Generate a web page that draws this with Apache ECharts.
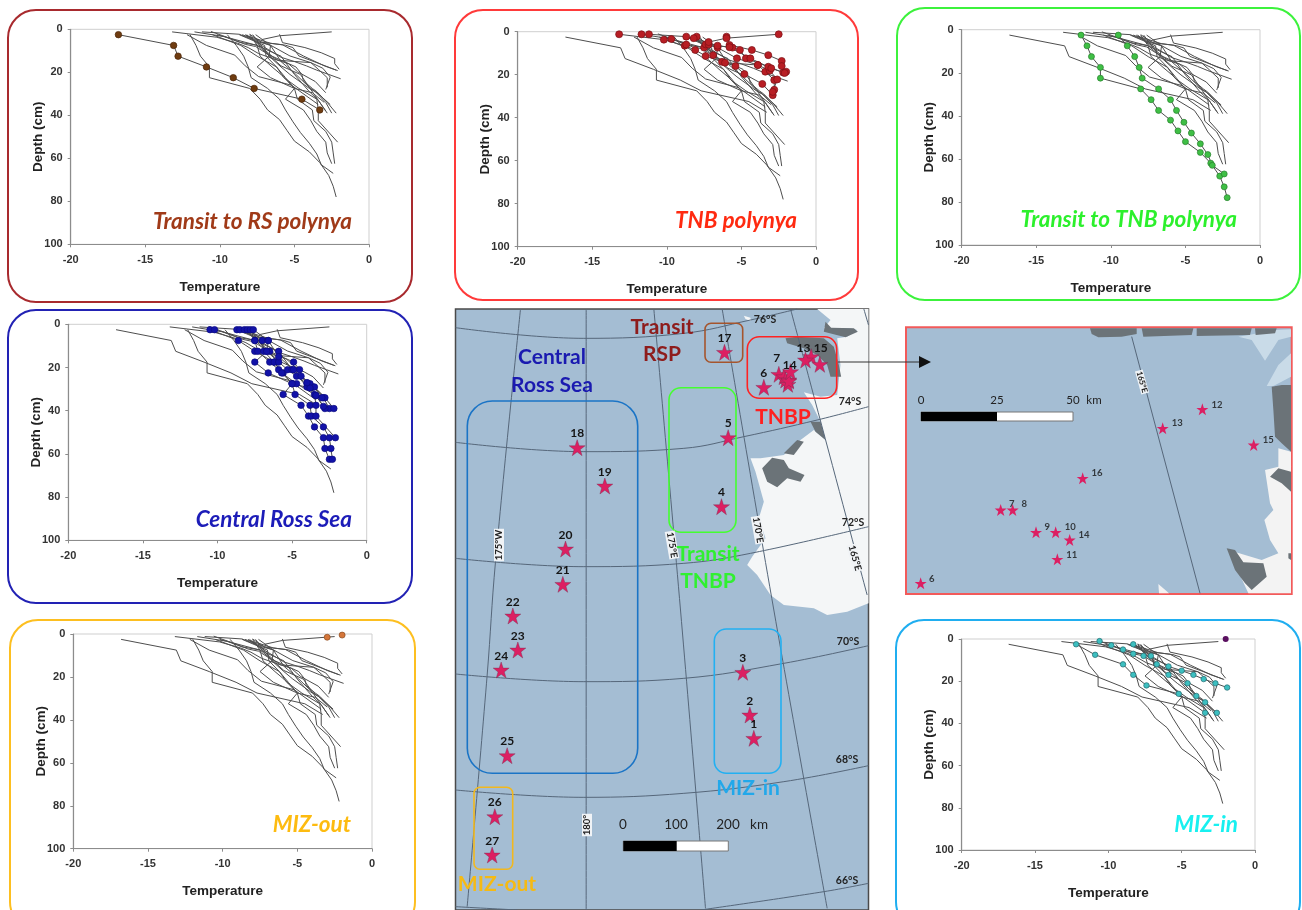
<!DOCTYPE html>
<html><head><meta charset="utf-8">
<script src="https://cdn.jsdelivr.net/npm/echarts@6/dist/echarts.min.js"></script>
<style>html,body{margin:0;padding:0;background:#fff}#c{width:1302px;height:910px;filter:blur(0.45px)}</style>
</head><body><div id="c"></div>
<script>
// ---------- ice temperature profiles: [temperature degC, depth cm] ----------
const st17=[[-16.8,2.5],[-13.1,7.5],[-12.8,12.5],[-10.9,17.5],[-9.1,22.5],[-7.7,27.5],[-4.5,32.5],[-3.3,37.5]];
const st4=[[-12,2.5],[-11.6,7.5],[-11.3,12.5],[-10.7,17.5],[-10.7,22.5],[-8,27.5],[-7.3,32.5],[-6.8,37.5],[-6,42],[-5.5,47],[-5,52],[-4,57],[-3.3,62],[-2.7,68],[-2.4,73],[-2.2,78]];
const st5=[[-9.5,2.5],[-8.9,7.5],[-8.4,12.5],[-8.1,17.5],[-7.9,22.5],[-6.8,27.5],[-6,32.5],[-5.6,37.5],[-5.1,43],[-4.6,48],[-4,53],[-3.5,58],[-3.2,63],[-2.4,67]];
const st1=[[-12.2,2.5],[-10.9,7.5],[-9,12],[-8.3,17],[-7.4,22],[-5.2,26],[-3.4,35]];
const st2=[[-10.6,1],[-9.8,3],[-9,5],[-8.3,7],[-7.6,8],[-6.7,12],[-5.9,17],[-4.6,21],[-4,27],[-3.4,30],[-2.6,35]];
const st3=[[-8.3,2.5],[-7.1,8],[-5.9,13],[-5,15],[-4.2,17],[-3.5,19],[-2.7,21],[-1.9,23]];
const st6=[[-13.2,1.2],[-10.2,3.7],[-8.8,6.5],[-8.1,8.5],[-7.4,11.3],[-6.3,14],[-5.4,16],[-4.8,19.7],[-3.6,24.3],[-2.9,29.5]];
const st7=[[-11.7,1.2],[-9.7,3.4],[-8.7,6],[-7.5,7.4],[-6.9,10.9],[-6.1,14.4],[-3.9,15.5],[-3.4,18.6],[-2.8,22.5],[-2.8,27]];
const st8=[[-11.2,1.2],[-8.7,2.3],[-7.4,5.9],[-6.6,7.4],[-5.3,12.4],[-3.9,15.5],[-3.1,18.1],[-2.6,22.2],[-2.9,28]];
const st9=[[-8,2.3],[-7.2,6],[-5.6,7.4],[-5.1,8.5],[-4.7,12.4],[-3.2,16.3],[-2.2,19]];
const st10=[[-6,2.3],[-5.8,6.2],[-4.3,8.5],[-3.2,10.9],[-2.3,13.6],[-2.3,16],[-2,18.6]];
const st11=[[-8.2,3],[-6.6,6.5],[-5.8,7.2],[-4.4,12.4],[-3,17],[-2.1,19.2]];
const st12=[[-2.5,1.2],[-6,3],[-7.2,4.8]];
const st18=[[-10.5,2.5],[-8.6,7.5],[-7.5,12.5],[-6.2,17.5],[-5.6,22.5],[-5,27.5],[-5.6,32.5],[-4.4,37.5],[-3.9,42.5],[-3.5,47.5],[-2.9,52.5],[-2.8,57.5],[-2.5,62.5]];
const st19=[[-10.2,2.5],[-7.5,7.5],[-7.3,12.5],[-6.5,17.5],[-5.9,21],[-5,27.5],[-4.8,32.5],[-3.8,37.5],[-3.7,42.5],[-2.9,47.5],[-2.5,52.5],[-2.4,57.5],[-2.3,62.5]];
const st20=[[-8.7,2.5],[-7,7.5],[-6.9,12.5],[-6.2,17.5],[-5.7,22.5],[-4.7,27.5],[-3.5,32.5],[-3.4,37.5],[-3.4,42.5],[-2.1,52.5]];
const st21=[[-8.5,2.5],[-6.6,7.5],[-6.7,12.5],[-5.9,17.5],[-5.3,21],[-4.7,24],[-4,27.5],[-3.6,29],[-2.9,34],[-2.5,39]];
const st22=[[-8.2,2.5],[-6.5,12.5],[-4.9,17.5],[-4.5,21],[-4.4,24],[-3.8,27.5],[-3.5,29],[-2.8,34],[-2.2,39]];
const st23=[[-8,2.5],[-7.5,7.5],[-5.9,12.5],[-5,21],[-4,29],[-3.4,33],[-2.8,39]];
const st24=[[-7.8,2.5],[-6.7,12.5],[-7.5,17.5],[-6.6,22.5],[-5,27.5],[-3.8,29.5],[-3,34]];
const st25=[[-7.6,2.5],[-6.6,7.5],[-5.9,15],[-4.9,21],[-4,27],[-3.4,33],[-2.9,38]];
const miz26=[[-3,1.5],[-2,0.5]];
const mizExtra=[[-2,0]];

const groupRS=[st17];
const groupTNB=[st6,st7,st8,st9,st10,st11,st12];
const groupTransit=[st4,st5];
const groupCentral=[st18,st19,st20,st21,st22,st23,st24,st25];
const groupMizIn=[st1,st2,st3];
const allProfiles=[].concat(groupRS,groupTNB,groupTransit,groupCentral,groupMizIn);

const tempTicks=[-20,-15,-10,-5,0];
const depthTicks=[0,20,40,60,80,100];

// ---------- map: stations and geography in map units ----------
const mapStars=[['1',910,1300],['2',898,1230],['3',877,1102],['4',813,605],['5',833,398],['6',940,247],['7',985,208],['8',1000,215],['9',1005,225],['10',1015,225],['11',1012,238],['12',1082,155],['13',1065,165],['14',1015,228],['15',1108,178],['16',1020,200],['17',822,142],['18',380,428],['19',463,543],['20',345,732],['21',337,838],['22',187,933],['23',202,1035],['24',152,1095],['25',170,1352],['26',133,1535],['27',125,1650]];
const mapHiddenLabels=['8','9','10','11','12','16'];
const mapLabelOffset={'6':[0,0],'7':[-2,-2],'14':[1,-2],'13':[-2,2],'15':[1,-2]};
const parallels=[
 [[15,68],[400,100],[700,85],[900,45],[1040,12]],
 [[15,412],[400,440],[700,430],[880,395],[1100,345],[1254,305]],
 [[15,760],[400,785],[700,775],[900,745],[1254,665]],
 [[15,1107],[400,1130],[700,1120],[1000,1075],[1254,1022]],
 [[15,1455],[400,1477],[700,1465],[1000,1430],[1254,1382]],
 [[15,1805],[200,1815]],
 [[750,1815],[1120,1760],[1254,1735]]
];
const meridians=[
 [[407,12],[407,1815]],
 [[210,12],[135,770],[110,1110],[50,1805]],
 [[610,12],[690,915],[765,1810]],
 [[815,12],[970,915],[1130,1810]],
 [[1020,12],[1250,870]],
 [[1240,12],[1254,60]]
];
const landWhite=[[1100,12],[1140,45],[1120,70],[1200,70],[1220,75],[1190,95],[1160,100],[1170,180],[1160,270],[1110,275],[1060,262],[1085,300],[1110,350],[1125,405],[1090,375],[1050,405],[1000,450],[930,460],[900,460],[915,500],[940,590],[925,640],[945,700],[905,755],[890,780],[920,810],[960,870],[1000,900],[1090,910],[1130,930],[1190,920],[1254,895],[1254,12]];
const landSpeck=[[880,32],[900,38],[900,48],[885,42]];
const rocks=[
 [[1005,100],[1040,95],[1120,100],[1150,125],[1165,180],[1172,215],[1140,215],[1130,180],[1100,150],[1060,130],[1010,115]],
 [[1125,50],[1142,68],[1210,70],[1222,80],[1185,97],[1120,80]],
 [[1080,350],[1110,350],[1125,405],[1095,380]],
 [[1040,405],[1060,410],[1030,450],[1000,445]],
 [[935,490],[965,458],[1000,465],[1015,490],[1062,510],[1050,530],[1010,520],[980,547],[950,530]]
];
// ---------- inset ----------
const insetStars=[['6',77,790,[110,776]],['7',317,570,[350,553]],['8',353,570,[388,553]],['9',423,637,[457,622]],['10',482,637,[526,622]],['11',487,718,[530,705]],['12',922,268,[966,254]],['13',803,325,[847,310]],['14',524,660,[567,646]],['15',1076,375,[1120,360]],['16',563,475,[606,460]]];
const insetLight=[[1030,50],[1145,30],[1188,28],[1188,100],[1150,135],[1115,198],[1135,198],[1188,170],[1188,50],[1150,60],[1110,122],[1070,60]];
const insetLand=[[1150,385],[1188,395],[1188,820],[1060,820],[1000,690],[1100,720],[1150,700],[1125,660],[1108,600],[1135,570],[1125,550],[1110,450],[1150,440]];
const insetSpeck=[[790,792],[822,820],[792,820]];
const insetRocks=[
 [[585,25],[725,25],[725,42],[680,50],[610,52],[590,42]],
 [[740,25],[895,25],[890,45],[745,50]],
 [[905,25],[1070,25],[1065,45],[905,48]],
 [[1080,25],[1145,25],[1140,40],[1082,45]],
 [[1130,200],[1160,195],[1188,195],[1188,395],[1160,370],[1140,350],[1135,270]],
 [[1125,470],[1150,445],[1188,455],[1188,515],[1160,490]],
 [[995,685],[1020,690],[1045,727],[1105,730],[1115,770],[1070,810],[1050,790],[1020,750]],
 [[1180,700],[1188,700],[1188,720],[1180,715]]
];
const insetMeridian=[[710,50],[915,820]];

// ---------- layout ----------
const panels=[
 {x0:70.7,x1:369,y0:29.3,y1:244.3,group:groupRS,color:'#6f3c10',border:'#4a2508',size:6.5},
 {x0:517.7,x1:816,y0:31.7,y1:246.7,group:groupTNB,color:'#b81e24',border:'#7c1015',size:7},
 {x0:961.7,x1:1260,y0:29.7,y1:245,group:groupTransit,color:'#3fbf45',border:'#27802c',size:6},
 {x0:68.3,x1:366.7,y0:324.3,y1:540.3,group:groupCentral,color:'#1212a8',border:'#0c0c80',size:6.5},
 {x0:73.3,x1:372,y0:634,y1:848.7,group:[miz26],color:'#d5763a',border:'#8a4a20',size:6},
 {x0:961.7,x1:1255,y0:639,y1:850,group:groupMizIn,color:'#3dbfc0',border:'#226a70',size:5.5,extra:mizExtra}
];
const frames=[
 [8,10,404,292,'#a82a2e'],[455,10,403,290,'#ff3a3a'],[897,8,403,292,'#3cf23c'],
 [8,310,404,293,'#2222b4'],[10,620,405,310,'#fdbf20'],[896,620,404,310,'#20aef0']
];
const panelTitles=[
 ['Transit to RS polynya',352,222,'#a03a18'],['TNB polynya',797,221,'#ff2a10'],
 ['Transit to TNB polynya',1237,220,'#2cf02c'],['Central Ross Sea',352,520,'#1c1cb8'],
 ['MIZ-out',351,825,'#fdbb10'],['MIZ-in',1238,825,'#18f0f0']
];
const mapBoxes=[
 [467.3,401,170.4,372.3,25,'#1a74c6'],[669,387.7,67,144.6,12,'#44ff30'],[705,323.3,37.7,39,6,'#a5552d'],
 [747.3,336.7,89.4,61.6,12,'#ff2222'],[714.3,629,66.7,144.3,12,'#22b0f2'],[474,787.3,38.7,82,6,'#f2b81e']
];
const mapTexts=[
 ['Central',552,357,'#1a1ab0'],['Ross Sea',552,385,'#1a1ab0'],['Transit',662,327,'#8e1c1c'],['RSP',662,354,'#8e1c1c'],
 ['TNBP',783,417,'#ff2020'],['Transit',708,554,'#30f030'],['TNBP',708,581,'#30f030'],
 ['MIZ-in',748,788,'#22a8ea'],['MIZ-out',497,884,'#f5ba14']
];
const latLabels=[['76°S',765,320],['74°S',850,402],['72°S',853,523],['70°S',848,642],['68°S',847,760],['66°S',847,881]];
const lonLabels=[['175°W',499,545,Math.PI/2],['175°E',672,545,-1.4],['170°E',758,530,-1.4],['165°E',855,558,-1.3],['180°',587,825,Math.PI/2]];
const scaleMain=[['0',623,825],['100',676,825],['200',728,825],['km',759,825]];
const scaleInset=[['0',921,400],['25',997,400],['50',1073,400],['km',1094,400]];

const STAR='path://M50 0L61.8 35.5 98 35.5 68.6 57.4 79.4 93 50 71 20.6 93 31.4 57.4 2 35.5 38.2 35.5Z';
const TICK='"Liberation Sans",Arial,sans-serif';
const grids=[],xAxes=[],yAxes=[],series=[];
panels.forEach((p,i)=>{
  grids.push({left:p.x0,top:p.y0,width:p.x1-p.x0,height:p.y1-p.y0,show:true,borderColor:'#cfcfcf',borderWidth:1,backgroundColor:'#fff'});
  xAxes.push({gridIndex:i,type:'value',min:tempTicks[0],max:tempTicks[tempTicks.length-1],interval:5,position:'bottom',
    name:'Temperature',nameLocation:'middle',nameGap:36,nameTextStyle:{fontFamily:TICK,fontWeight:'bold',fontSize:13.5,color:'#222'},
    axisLine:{onZero:false,lineStyle:{color:'#8c8c8c',width:1.2}},axisTick:{length:3,lineStyle:{color:'#8c8c8c'}},splitLine:{show:false},
    axisLabel:{fontFamily:TICK,fontWeight:'bold',fontSize:11,color:'#333',margin:10}});
  yAxes.push({gridIndex:i,type:'value',inverse:true,min:depthTicks[0],max:depthTicks[depthTicks.length-1],interval:20,position:'left',
    name:'Depth (cm)',nameLocation:'middle',nameGap:25,nameMoveOverlap:false,nameRotate:90,nameTextStyle:{fontFamily:TICK,fontWeight:'bold',fontSize:13.5,color:'#222'},
    axisLine:{onZero:false,lineStyle:{color:'#8c8c8c',width:1.2}},axisTick:{length:3,lineStyle:{color:'#8c8c8c'}},splitLine:{show:false},
    axisLabel:{fontFamily:TICK,fontWeight:'bold',fontSize:11,color:'#333',margin:8}});
  allProfiles.forEach(prof=>series.push({type:'line',xAxisIndex:i,yAxisIndex:i,data:prof,symbol:'none',silent:true,z:3,
    lineStyle:{color:'#4e4e4e',width:1}}));
  const pts=[].concat(...p.group);
  series.push({type:'scatter',xAxisIndex:i,yAxisIndex:i,data:pts,symbol:'circle',symbolSize:p.size,silent:true,z:5,
    itemStyle:{color:p.color,borderColor:p.border,borderWidth:0.7,opacity:1}});
  if(p.extra) series.push({type:'scatter',xAxisIndex:i,yAxisIndex:i,data:p.extra,symbolSize:6,silent:true,z:5,itemStyle:{color:'#5a1060',opacity:1}});
});

// map grid
const MAP=panels.length, INS=MAP+1;
grids.push({left:455.5,top:309,width:413,height:601,show:true,backgroundColor:'#a4bdd3',borderColor:'#4a4a4a',borderWidth:1.5});
xAxes.push({gridIndex:MAP,type:'value',show:false,min:15,max:1254});
yAxes.push({gridIndex:MAP,type:'value',show:false,inverse:true,min:12,max:1815});
grids.push({left:906,top:327.3,width:385.7,height:266.7,show:true,backgroundColor:'#a4bdd3',borderColor:'#f25a5a',borderWidth:2});
xAxes.push({gridIndex:INS,type:'value',show:false,min:33,max:1190});
yAxes.push({gridIndex:INS,type:'value',show:false,inverse:true,min:22,max:822});

function polySeries(idx,shapes,fill,z){
  series.push({type:'custom',xAxisIndex:idx,yAxisIndex:idx,silent:true,z:z,clip:true,
    data:shapes.map((s,i)=>[i]),encode:{x:0,y:0},
    renderItem:(params,api)=>({type:'polygon',shape:{points:shapes[api.value(0)].map(pt=>api.coord(pt))},style:{fill:fill}})});
}
polySeries(MAP,[landWhite,landSpeck],'#f4f6f7',3);
polySeries(MAP,rocks,'#6b7378',4);
parallels.concat(meridians).forEach(l=>series.push({type:'line',xAxisIndex:MAP,yAxisIndex:MAP,data:l,smooth:0.4,symbol:'none',silent:true,z:5,
  lineStyle:{color:'#56677a',width:1}}));
series.push({type:'scatter',xAxisIndex:MAP,yAxisIndex:MAP,silent:true,z:12,symbol:STAR,symbolSize:16,
  itemStyle:{color:'#dc1f62',borderColor:'#7a3050',borderWidth:0.4,opacity:1},
  data:mapStars.map(s=>({value:[s[1],s[2]],label:{show:!mapHiddenLabels.includes(s[0]),formatter:s[0],position:'top',distance:0,
     offset:mapLabelOffset[s[0]]||[0,0],fontFamily:'Lato,sans-serif',fontWeight:'bold',fontSize:12,color:'#151515'}}))});
polySeries(INS,[insetLight],'#c9dbe8',3);
polySeries(INS,[insetLand,insetSpeck],'#f3f3f3',3);
polySeries(INS,insetRocks,'#6b7378',4);
series.push({type:'line',xAxisIndex:INS,yAxisIndex:INS,data:insetMeridian,symbol:'none',silent:true,z:5,lineStyle:{color:'#56677a',width:1}});
series.push({type:'scatter',xAxisIndex:INS,yAxisIndex:INS,data:insetStars.map(s=>[s[1],s[2]]),symbol:STAR,symbolSize:12,silent:true,z:12,
  itemStyle:{color:'#dc1f62',opacity:1}});
series.push({type:'scatter',xAxisIndex:INS,yAxisIndex:INS,symbolSize:0,silent:true,z:13,
  data:insetStars.map(s=>({value:s[3],label:{show:true,formatter:s[0],position:'inside',fontFamily:'Lato,sans-serif',fontWeight:'bold',fontSize:9.5,color:'#151515'}}))});

// decorations
const g=[];
frames.forEach(f=>g.push({type:'rect',z:1,silent:true,shape:{x:f[0],y:f[1],width:f[2],height:f[3],r:28},style:{fill:'none',stroke:f[4],lineWidth:2}}));
panelTitles.forEach(t=>g.push({type:'text',z:20,x:t[1],y:t[2],style:{text:t[0],fill:t[3],align:'right',verticalAlign:'middle',font:'italic bold 22.5px Lato,sans-serif'}}));
mapBoxes.forEach(b=>g.push({type:'rect',z:8,silent:true,shape:{x:b[0],y:b[1],width:b[2],height:b[3],r:b[4]},style:{fill:'none',stroke:b[5],lineWidth:1.6}}));
mapTexts.forEach(t=>g.push({type:'text',z:20,x:t[1],y:t[2],style:{text:t[0],fill:t[3],align:'center',verticalAlign:'middle',font:'bold 21px Lato,sans-serif',shadowColor:'rgba(30,30,30,0.45)',shadowBlur:2,shadowOffsetX:1,shadowOffsetY:1}}));
latLabels.forEach(t=>g.push({type:'text',z:20,x:t[1],y:t[2],style:{text:t[0],fill:'#222',align:'center',verticalAlign:'middle',font:'bold 10.5px Lato,sans-serif'}}));
lonLabels.forEach(t=>g.push({type:'text',z:9,x:t[1],y:t[2],rotation:t[3],style:{text:t[0],fill:'#222',align:'center',verticalAlign:'middle',font:'bold 9.5px Lato,sans-serif',backgroundColor:'#f0f3f6',padding:[0,1]}}));
scaleMain.forEach(t=>g.push({type:'text',z:20,x:t[1],y:t[2],style:{text:t[0],fill:'#222',align:'center',verticalAlign:'middle',font:'13.5px Lato,sans-serif'}}));
g.push({type:'rect',z:20,shape:{x:623.3,y:841,width:105,height:10},style:{fill:'#fff',stroke:'#777',lineWidth:1}});
g.push({type:'rect',z:21,shape:{x:623.3,y:841,width:53.4,height:10},style:{fill:'#000'}});
scaleInset.forEach(t=>g.push({type:'text',z:20,x:t[1],y:t[2],style:{text:t[0],fill:'#222',align:'center',verticalAlign:'middle',font:'11.5px Lato,sans-serif'}}));
g.push({type:'rect',z:20,shape:{x:921,y:412,width:152,height:9},style:{fill:'#fff',stroke:'#777',lineWidth:1}});
g.push({type:'rect',z:21,shape:{x:921,y:412,width:76,height:9},style:{fill:'#000'}});
g.push({type:'line',z:20,shape:{x1:838,y1:362,x2:921,y2:362},style:{stroke:'#333',lineWidth:1}});
g.push({type:'polygon',z:20,shape:{points:[[919,356],[931,362],[919,368]]},style:{fill:'#111'}});
g.push({type:'text',z:15,x:1142,y:382,rotation:-1.3,style:{text:'165°E',fill:'#222',align:'center',verticalAlign:'middle',font:'bold 8px Lato,sans-serif',backgroundColor:'#eef2f5',padding:[0,1]}});

const chart=echarts.init(document.getElementById('c'),null,{width:1302,height:910});
chart.setOption({animation:false,backgroundColor:'#fff',grid:grids,xAxis:xAxes,yAxis:yAxes,series:series,graphic:{elements:g}});
</script></body></html>
